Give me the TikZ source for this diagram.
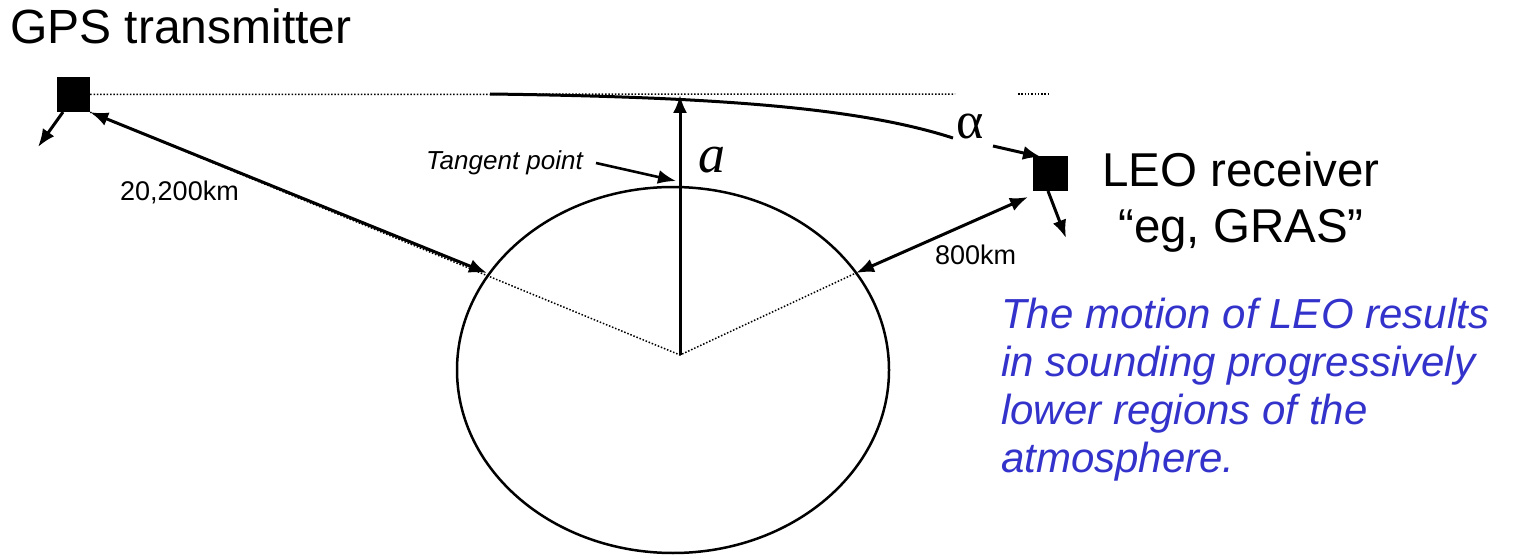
\documentclass[tikz,border=0pt]{standalone}
\usepackage{fontspec}
\setmainfont{Liberation Sans}
\newfontfamily\seriffam{Liberation Serif}
\usetikzlibrary{arrows.meta,shapes.geometric}
\definecolor{noteblue}{RGB}{51,51,204}
\tikzset{
  fs/.style={font=\fontsize{#1}{#1}\selectfont},
  txt/.style={inner sep=0pt, anchor=base west},
  sat/.style={fill=black, draw=none, inner sep=0pt},
  arr/.style={line width=3pt, -{Latex[length=18pt,width=14pt]}},
  darr/.style={line width=3pt, {Latex[length=18pt,width=14pt]}-{Latex[length=18pt,width=14pt]}},
  dots/.style={line width=1.5pt, dash pattern=on 1.5pt off 1.8pt},
}
\begin{document}
\begin{tikzpicture}[x=1pt,y=-1pt]
\useasboundingbox (0,0) rectangle (1515,559);
% Earth
\node[draw, line width=2.5pt, ellipse, minimum width=432pt, minimum height=366pt, inner sep=0pt] (earth) at (673,370) {};
% satellites
\node[sat, minimum width=33pt, minimum height=35pt] (gps) at (73.5,94.5) {};
\node[sat, minimum width=35pt, minimum height=35pt] (leo) at (1050.5,173.5) {};
% coordinates
\coordinate (ctr) at (680,355);
\coordinate (pL) at (487,273);
\coordinate (pR) at (856,273);
\coordinate (top) at (680,95);
\coordinate (h1) at (955,94);
\coordinate (h2) at (1018,94);
\coordinate (h3) at (1050,94);
\coordinate (r0) at (490,94);
\coordinate (r1) at (953,138);
\coordinate (r2) at (993,146);
\coordinate (r3) at (1041,157);
\coordinate (gv) at (38,147);
\coordinate (lv) at (1066,238);
\coordinate (tp) at (676,181);
\coordinate (ts) at (596,163);
\coordinate (lsw) at (1028,197);
\coordinate (gsw) at (63,112);
\coordinate (ls) at (1048,191);
% dotted lines
\draw[dots] (gps.east) -- (h1);
\draw[dots] (h2) -- (h3);
\draw[dots] (gps.south east) -- (ctr) -- (pR);
% ray
\draw[line width=3pt] (r0) .. controls (720,97) and (860,108) .. (r1);
\draw[arr] (r2) -- (r3);
% vertical
\draw[arr] (ctr) -- (top);
% distances
\draw[darr] (gps.south east) -- (pL);
\draw[darr] (pR) -- (lsw);
% velocities
\draw[arr] (gsw) -- (gv);
\draw[arr] (ls) -- (lv);
% labels
\node[txt, fs=48] (title) at (10,44) {GPS transmitter};
\node[txt, fs=27] (d1) at (120,200) {20,200km};
\node[txt, fs=27] (d2) at (935,264) {800km};
\node[txt, font=\itshape\fontsize{26}{26}\selectfont] (tlab) at (426,169) {Tangent point};
\draw[arr, line width=2.6pt] (ts) -- (tp);
\node[inner sep=0pt, anchor=base west, font=\seriffam\itshape\fontsize{54}{54}\selectfont] (alab) at (698,172) {a};
\node[inner sep=0pt, anchor=base west, font=\seriffam\fontsize{52}{52}\selectfont] (alpha) at (956,139) {α};
\node[inner sep=0pt, anchor=base, fs=47.5] (leo1) at (1241,186) {LEO receiver};
\node[inner sep=0pt, anchor=base, fs=47.5] (leo2) at (1241,242) {“eg, GRAS”};
\begin{scope}[every node/.style={inner sep=0pt, anchor=base west, text=noteblue, font=\itshape\fontsize{42}{42}\selectfont}]
\node (n1) at (1001,328) {The motion of LEO results};
\node (n2) at (1001,376) {in sounding progressively};
\node (n3) at (1001,424) {lower regions of the};
\node (n4) at (1001,472) {atmosphere.};
\end{scope}
\end{tikzpicture}
\end{document}
